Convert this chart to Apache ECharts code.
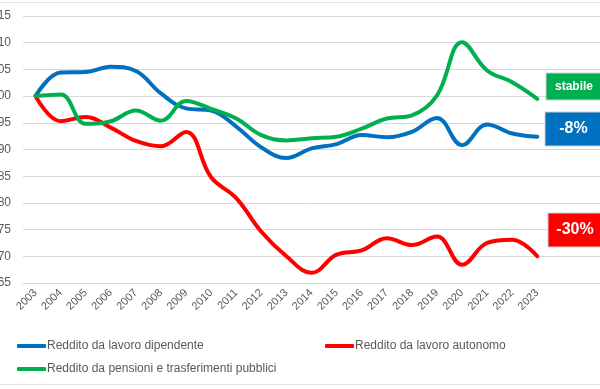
<!DOCTYPE html>
<html>
<head>
<meta charset="utf-8">
<script src="https://cdn.jsdelivr.net/npm/echarts@6/dist/echarts.min.js"></script>
<style>html,body{margin:0;padding:0;background:#fff;}#c{width:600px;height:389px;}</style>
</head>
<body>
<div id="c"></div>
<script>
const years = ['2003','2004','2005','2006','2007','2008','2009','2010','2011','2012','2013','2014','2015','2016','2017','2018','2019','2020','2021','2022','2023'];
const dipendente = [100,104.4,104.5,105.5,104.7,100.5,97.7,97.3,94.3,90.4,88.4,90.2,91.0,92.7,92.3,93.3,95.9,90.8,94.7,93.0,92.4];
const autonomo = [100,95.3,96.1,94.1,91.6,90.6,93.3,84.8,80.9,74.6,70.0,66.9,70.3,71.1,73.4,72.1,73.7,68.4,72.5,73.1,70.0];
const pensioni = [100,100.3,94.8,95.3,97.3,95.4,99.1,97.6,95.8,92.7,91.7,92.1,92.4,93.9,95.8,96.4,100.1,110.1,104.8,102.6,99.5];
const yMin = 65, yMax = 115, yStep = 5;
const seriesNames = ['Reddito da lavoro dipendente','Reddito da lavoro autonomo','Reddito da pensioni e trasferimenti pubblici'];
const colors = ['#0070C0','#FF0000','#00B050'];
const notes = ['stabile','-8%','-30%'];

const cats = years.concat(['','']);
const chart = echarts.init(document.getElementById('c'));
const font = 'Liberation Sans, Arial, sans-serif';
const mkSeries = (name, data, color) => ({
  name, type: 'line', data, smooth: 0.4, symbol: 'none',
  lineStyle: {color, width: 4, cap: 'round'}, itemStyle: {color}
});
const mkLegend = (name, left, top) => ({
  data: [name], left, top, icon: 'roundRect', itemWidth: 29, itemHeight: 4,
  itemGap: 0, selectedMode: false,
  textStyle: {color: '#595959', fontSize: 12, fontFamily: font, padding: [0,0,0,-4]}
});
const box = (text, x, y, w, h, color, fs) => ({
  type: 'group', left: x, top: y, z: 100, children: [
    {type: 'rect', z: 100, shape: {x: 0, y: 0, width: w, height: h}, style: {fill: color, stroke: '#d0d0d0', lineWidth: 1}},
    {type: 'text', z: 101, style: {text, x: w/2, y: h/2, textAlign: 'center', textVerticalAlign: 'middle', fill: '#fff', font: 'bold ' + fs + 'px ' + font}}
  ]
});
chart.setOption({
  animation: false,
  backgroundColor: '#fff',
  grid: {left: 23, right: 0, top: 16, bottom: 106, containLabel: false, outerBoundsMode: 'none'},
  xAxis: {
    type: 'category', data: cats, boundaryGap: true,
    axisLine: {lineStyle: {color: '#d9d9d9'}}, axisTick: {show: false},
    axisLabel: {rotate: 45, color: '#595959', fontSize: 11, fontFamily: font, margin: 8, interval: 0}
  },
  yAxis: {
    type: 'value', min: yMin, max: yMax, interval: yStep,
    axisLine: {show: false}, axisTick: {show: false},
    splitLine: {lineStyle: {color: '#d9d9d9', width: 1}},
    axisLabel: {color: '#595959', fontSize: 12, fontFamily: font, margin: 12}
  },
  legend: [
    mkLegend(seriesNames[0], 12, 335),
    mkLegend(seriesNames[1], 320, 335),
    mkLegend(seriesNames[2], 12, 358)
  ],
  series: [
    mkSeries(seriesNames[0], dipendente, colors[0]),
    mkSeries(seriesNames[1], autonomo, colors[1]),
    mkSeries(seriesNames[2], pensioni, colors[2])
  ],
  graphic: [
    {type: 'line', shape: {x1: 0, y1: 2.5, x2: 600, y2: 2.5}, style: {stroke: '#e3e3e3', lineWidth: 1}},
    {type: 'line', shape: {x1: 0, y1: 384.5, x2: 600, y2: 384.5}, style: {stroke: '#e3e3e3', lineWidth: 1}},
    box(notes[0], 545.5, 72.5, 56, 27, colors[2], 12),
    box(notes[1], 544.5, 111.5, 57, 34, colors[0], 16),
    box(notes[2], 547.5, 212.5, 54, 34, colors[1], 16)
  ]
});
</script>
</body>
</html>
